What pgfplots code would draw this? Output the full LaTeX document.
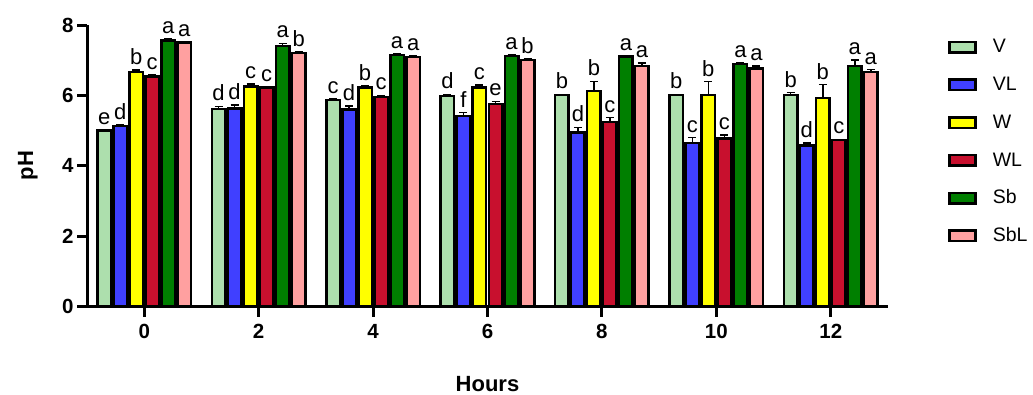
\documentclass[border=0pt]{standalone}
\usepackage{pgfplots}
\pgfplotsset{compat=1.18}
\usepackage{pgfplotstable}
\usepackage{fontspec}
\setmainfont{Liberation Sans}

\definecolor{cV}{HTML}{ADDFAD}
\definecolor{cVL}{HTML}{4040FF}
\definecolor{cW}{HTML}{FFFF00}
\definecolor{cWL}{HTML}{C8102E}
\definecolor{cSb}{HTML}{007F00}
\definecolor{cSbL}{HTML}{FFA0A0}

\pgfplotstableread{
x y e lab
0 5.00 0.03 e
2 5.61 0.08 d
4 5.87 0.04 c
6 5.98 0.05 d
8 6.01 0.02 b
10 6.01 0.02 b
12 6.01 0.07 b
}\tV
\pgfplotstableread{
x y e lab
0 5.13 0.03 d
2 5.63 0.10 d
4 5.60 0.10 d
6 5.41 0.10 f
8 4.94 0.15 d
10 4.65 0.15 c
12 4.57 0.08 d
}\tVL
\pgfplotstableread{
x y e lab
0 6.67 0.05 b
2 6.25 0.07 c
4 6.22 0.05 b
6 6.23 0.06 c
8 6.13 0.27 b
10 6.01 0.38 b
12 5.93 0.38 b
}\tW
\pgfplotstableread{
x y e lab
0 6.53 0.05 c
2 6.22 0.03 c
4 5.96 0.04 c
6 5.75 0.08 e
8 5.25 0.12 c
10 4.78 0.09 c
12 4.73 0.02 c
}\tWL
\pgfplotstableread{
x y e lab
0 7.56 0.05 a
2 7.41 0.07 a
4 7.15 0.03 a
6 7.12 0.03 a
8 7.10 0.02 a
10 6.89 0.03 a
12 6.84 0.16 a
}\tSb
\pgfplotstableread{
x y e lab
0 7.50 0.03 a
2 7.20 0.03 b
4 7.09 0.03 a
6 7.01 0.03 b
8 6.84 0.08 a
10 6.77 0.07 a
12 6.66 0.07 a
}\tSbL

\pgfplotsset{
  mybar/.style={ybar, bar width=0.236, bar shift=0pt, fill=#1, draw=black, line width=2.5pt,
    error bars/.cd, y dir=plus, y explicit,
    error bar style={line width=1.5pt, black},
    error mark options={rotate=90, mark size=4pt, line width=1.5pt, black}},
  mylab/.style={forget plot, only marks, mark=none, nodes near coords, point meta=explicit symbolic,
    every node near coord/.append style={font=\fontsize{22}{22}\selectfont, anchor=south, inner sep=5pt, text=black}},
}

\begin{document}
\begin{tikzpicture}
\path[use as bounding box] (0pt,0pt) rectangle (1033pt,394pt);
\begin{axis}[
  at={(87pt,87.5pt)}, anchor=south west,
  scale only axis, width=801pt, height=281.5pt,
  xmin=-1, xmax=13, ymin=0, ymax=8,
  axis x line*=bottom, axis y line*=left,
  axis line style={line width=3pt, black},
  xtick={0,2,4,6,8,10,12}, ytick={0,2,4,6,8},
  tick align=outside, major tick length=10pt,
  tick style={line width=3pt, black},
  ticklabel style={font=\bfseries\fontsize{20.5}{20.5}\selectfont},
  xticklabel style={yshift=-4pt},
  /pgf/number format/assume math mode=true,
  xlabel={Hours}, ylabel={pH},
  label style={font=\bfseries\fontsize{22}{22}\selectfont},
  xlabel style={at={(axis description cs:0.5,-0.274)}, anchor=center},
  ylabel style={at={(axis description cs:-0.074,0.5)}, anchor=center},
  clip=false,
  legend cell align=left,
  legend style={at={(axis description cs:1.075,0.951)}, anchor=north west, draw=none, fill=none,
    font=\fontsize{19.5}{19.5}\selectfont, row sep=23pt, inner sep=0pt,
    nodes={inner sep=0pt, text height=14pt, text depth=0pt},
    /tikz/every odd column/.style={column sep=16pt}},
  legend image code/.code={\draw[#1, line width=2.5pt] (0pt,-6.5pt) rectangle (26pt,4pt);},
]
\addplot[mybar=cV] table[x expr=\thisrow{x}-0.70, y=y, y error=e]{\tV};
\addlegendentry{V}
\addplot[mybar=cVL] table[x expr=\thisrow{x}-0.42, y=y, y error=e]{\tVL};
\addlegendentry{VL}
\addplot[mybar=cW] table[x expr=\thisrow{x}-0.14, y=y, y error=e]{\tW};
\addlegendentry{W}
\addplot[mybar=cWL] table[x expr=\thisrow{x}+0.14, y=y, y error=e]{\tWL};
\addlegendentry{WL}
\addplot[mybar=cSb] table[x expr=\thisrow{x}+0.42, y=y, y error=e]{\tSb};
\addlegendentry{Sb}
\addplot[mybar=cSbL] table[x expr=\thisrow{x}+0.70, y=y, y error=e]{\tSbL};
\addlegendentry{SbL}

\addplot[mylab] table[x expr=\thisrow{x}-0.70, y expr=\thisrow{y}+\thisrow{e}, meta=lab]{\tV};
\addplot[mylab] table[x expr=\thisrow{x}-0.42, y expr=\thisrow{y}+\thisrow{e}, meta=lab]{\tVL};
\addplot[mylab] table[x expr=\thisrow{x}-0.14, y expr=\thisrow{y}+\thisrow{e}, meta=lab]{\tW};
\addplot[mylab] table[x expr=\thisrow{x}+0.14, y expr=\thisrow{y}+\thisrow{e}, meta=lab]{\tWL};
\addplot[mylab] table[x expr=\thisrow{x}+0.42, y expr=\thisrow{y}+\thisrow{e}, meta=lab]{\tSb};
\addplot[mylab] table[x expr=\thisrow{x}+0.70, y expr=\thisrow{y}+\thisrow{e}, meta=lab]{\tSbL};
\end{axis}
\end{tikzpicture}
\end{document}
